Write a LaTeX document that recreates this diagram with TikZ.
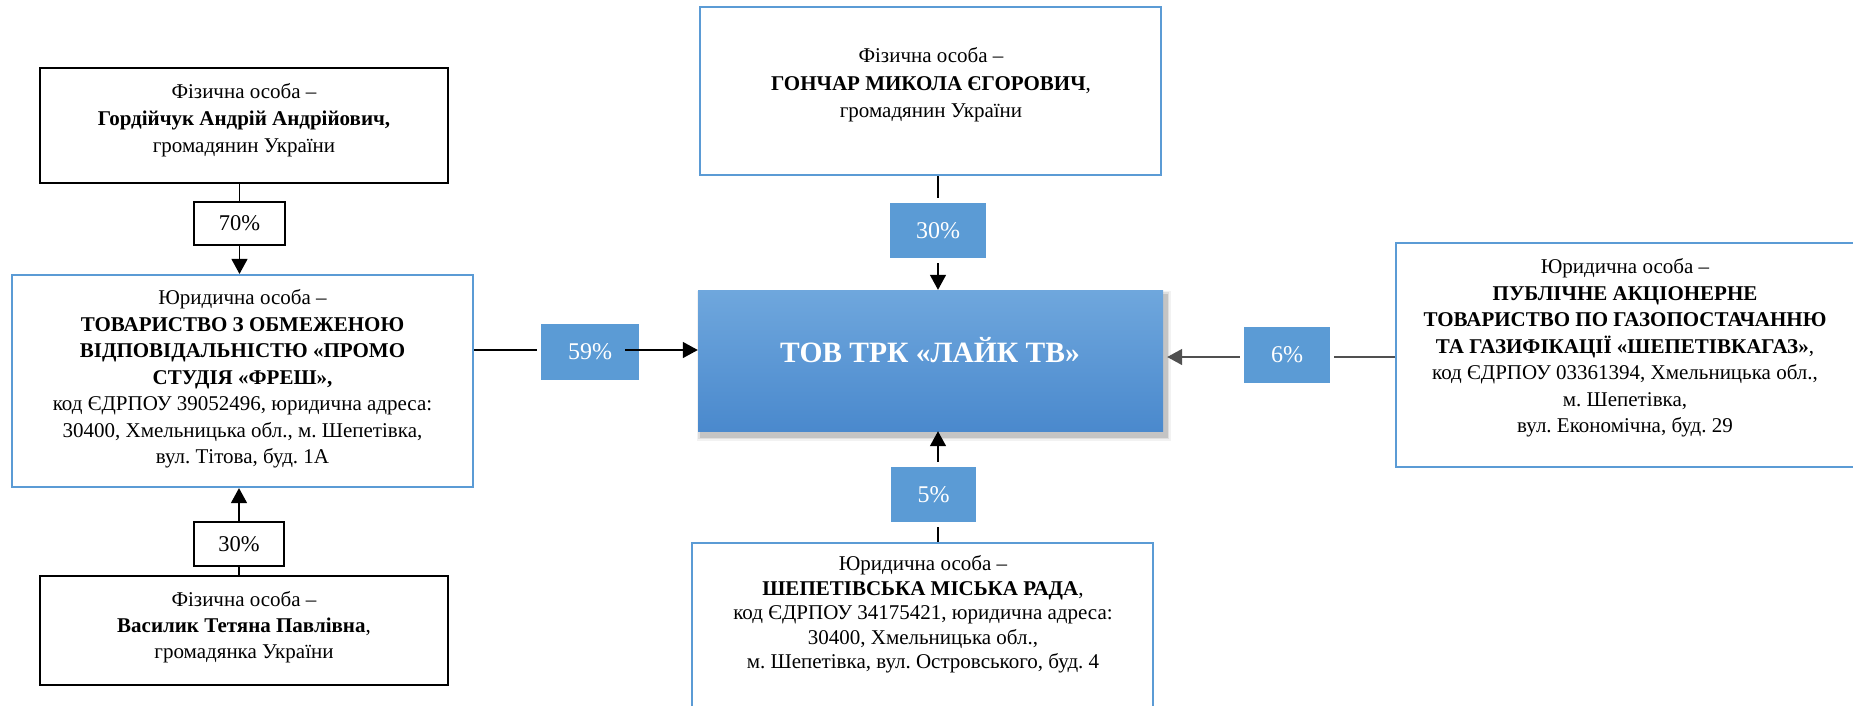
\documentclass[tikz,border=0pt]{standalone}
\usepackage{fontspec}
\setmainfont{Liberation Serif}
\usetikzlibrary{arrows.meta}
\definecolor{accent}{HTML}{5B9BD5}
\definecolor{gtop}{HTML}{6FA7DD}
\definecolor{gbot}{HTML}{4A89CD}
\definecolor{lgray}{HTML}{505050}
\frenchspacing
\begin{document}
\begin{tikzpicture}[x=1pt,y=-1pt,
  bbox/.style={draw=black,line width=1.7pt,fill=white,inner sep=0pt},
  blbox/.style={draw=accent,line width=2.2pt,fill=white,inner sep=0pt},
  txt/.style={align=center,inner sep=0pt,font=\fontsize{21}{27}\selectfont},
  pctw/.style={draw=black,line width=1.7pt,fill=white,inner sep=0pt,font=\fontsize{22.5}{24}\selectfont},
  pctb/.style={fill=accent,text=white,inner sep=0pt,font=\fontsize{24}{26}\selectfont},
  conn/.style={line width=1.4pt},
  arr/.style={conn,-{Triangle[length=15pt,width=16pt]}}]
\useasboundingbox (0,0) rectangle (1853,705);

% left column
\node[bbox,minimum width=408pt,minimum height=115pt] (g) at (244,125.5) {};
\node[txt] (gT) at (244,120) {Фізична особа –\\\textbf{Гордійчук Андрій Андрійович,}\\громадянин України};
\node[pctw,minimum width=91pt,minimum height=43pt] (p70) at (239.5,223.5) {70\%};
\node[blbox,minimum width=461pt,minimum height=212pt] (promo) at (242.5,381) {};
\node[txt,font=\fontsize{21}{26.5}\selectfont] (promoT) at (242.5,379) {Юридична особа –\\\textbf{ТОВАРИСТВО З ОБМЕЖЕНОЮ}\\\textbf{ВІДПОВІДАЛЬНІСТЮ «ПРОМО}\\\textbf{СТУДІЯ «ФРЕШ»,}\\код ЄДРПОУ 39052496, юридична адреса:\\30400, Хмельницька обл., м. Шепетівка,\\вул. Тітова, буд. 1А};
\node[pctw,minimum width=90pt,minimum height=44pt] (p30l) at (239,544) {30\%};
\node[bbox,minimum width=408pt,minimum height=109pt] (v) at (244,630.5) {};
\node[txt,font=\fontsize{21}{26}\selectfont] (vT) at (244,627) {Фізична особа –\\\textbf{Василик Тетяна Павлівна}, \\громадянка України};

% center column
\node[blbox,minimum width=461pt,minimum height=168pt] (h) at (930.5,91) {};
\node[txt,font=\fontsize{21}{27.5}\selectfont] (hT) at (931,85) {Фізична особа –\\\textbf{ГОНЧАР МИКОЛА ЄГОРОВИЧ}, \\громадянин України};
\node[pctb,minimum width=96pt,minimum height=55pt] (p30t) at (938,230.5) {30\%};

% shadow of central box
\foreach \s/\o in {9/0.05,6/0.08,3/0.12}{
  \fill[black,opacity=\o] (698-\s/2+3,290-\s/2+5) rectangle (1163+\s/2+3,431+\s/2+5);
}
\node[minimum width=465pt,minimum height=141pt,inner sep=0pt,top color=gtop,bottom color=gbot] (c) at (930.5,360.5) {};
\node[anchor=base,inner sep=0pt,text=white,font=\fontsize{29.5}{31}\selectfont\bfseries] (cT) at (930,362) {ТОВ ТРК «ЛАЙК ТВ»};

\node[pctb,minimum width=85pt,minimum height=55pt] (p5) at (933.5,494.5) {5\%};
\node[blbox,minimum width=461pt,minimum height=190pt] (sb) at (922.5,638) {};
\node[txt,font=\fontsize{21}{24.5}\selectfont] (sbT) at (923,614.5) {Юридична особа –\\\textbf{ШЕПЕТІВСЬКА МІСЬКА РАДА}, \\код ЄДРПОУ 34175421, юридична адреса:\\30400, Хмельницька обл.,\\м. Шепетівка, вул. Островського, буд. 4};

\node[pctb,minimum width=98pt,minimum height=56pt] (p59) at (590,352) {59\%};
\node[pctb,minimum width=86pt,minimum height=56pt] (p6) at (1287,355) {6\%};

% right box
\node[blbox,minimum width=464pt,minimum height=224pt] (rb) at (1628,355) {};
\node[txt,font=\fontsize{21}{26.5}\selectfont] (rbT) at (1625,348) {Юридична особа –\\\textbf{ПУБЛІЧНЕ АКЦІОНЕРНЕ}\\\textbf{ТОВАРИСТВО ПО ГАЗОПОСТАЧАННЮ}\\\textbf{ТА ГАЗИФІКАЦІЇ «ШЕПЕТІВКАГАЗ»},\\код ЄДРПОУ 03361394, Хмельницька обл.,\\м. Шепетівка,\\вул. Економічна, буд. 29};

% connectors left
\draw[conn] (g.south -| p70) -- (p70.north);
\draw[arr] (p70.south) -- (p70.south |- promo.north);
\draw[conn] (v.north -| p30l) -- (p30l.south);
\draw[arr] (p30l.north) -- (p30l.north |- promo.south);
\draw[conn] (promo.east |- 0,350) -- ([xshift=-4pt]p59.west |- 0,350);
\draw[arr] ([xshift=-14pt]p59.east |- 0,350) -- (c.west |- 0,350);

% connectors center
\draw[conn] (p30t.north |- h.south) -- ([yshift=5pt]p30t.north);
\draw[arr] ([yshift=-5pt]p30t.south) -- (p30t.south |- c.north);
\draw[arr] ([xshift=4.5pt,yshift=5pt]p5.north) -- ([xshift=4.5pt]p5.north |- c.south);
\draw[conn] ([xshift=4.5pt,yshift=-5pt]p5.south) -- ([xshift=4.5pt]p5.south |- sb.north);

% connectors right
\draw[conn,lgray] (rb.west |- 0,357) -- ([xshift=4pt]p6.east |- 0,357);
\draw[arr,lgray] ([xshift=-4pt]p6.west |- 0,357) -- ([xshift=4pt]c.east |- 0,357);
\end{tikzpicture}
\end{document}
